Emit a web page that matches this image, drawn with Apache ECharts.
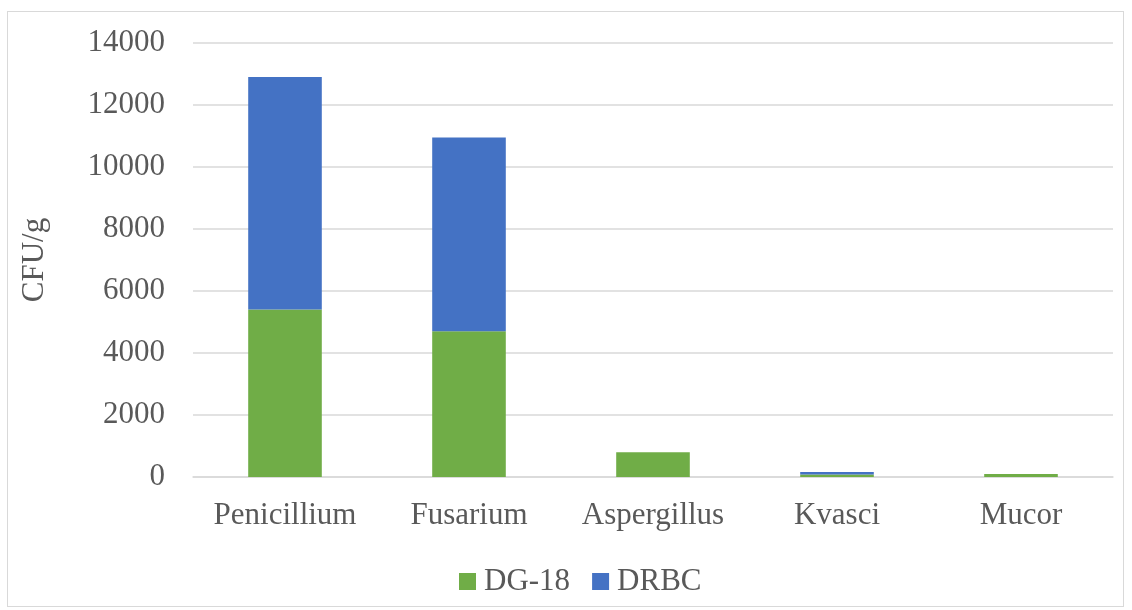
<!DOCTYPE html>
<html>
<head>
<meta charset="utf-8">
<script src="https://cdn.jsdelivr.net/npm/echarts@6/dist/echarts.min.js"></script>
<style>
  html, body { margin: 0; padding: 0; background: #fff; }
  #frame {
    position: absolute; left: 7px; top: 11px; width: 1117px; height: 596px;
    border: 1px solid #d9d9d9; box-sizing: border-box;
  }
  #chart { position: absolute; left: 0; top: 0; width: 1132px; height: 610px; }
</style>
</head>
<body>
<div id="frame"></div>
<div id="chart"></div>
<script>
const categories = ["Penicillium", "Fusarium", "Aspergillus", "Kvasci", "Mucor"];
const dg18 = [5400, 4700, 800, 80, 100];
const drbc = [7500, 6250, 0, 80, 0];
const seriesNames = ["DG-18", "DRBC"];

const textColor = "#595959";
const font = "Liberation Serif";

var myChart = echarts.init(document.getElementById("chart"));

var option = {
  animation: false,
  textStyle: { fontFamily: font },
  legend: {
    data: seriesNames,
    left: 454,
    top: 561,
    itemWidth: 17,
    itemHeight: 17,
    itemGap: 22,
    icon: "rect",
    textStyle: { color: textColor, fontSize: 31, fontFamily: font, padding: [0, 0, 0, 3] },
  },
  grid: { left: 193, right: 19, top: 43, bottom: 133 },
  xAxis: {
    type: "category",
    data: categories,
    axisLine: { lineStyle: { color: "#d9d9d9", width: 1.5 } },
    axisTick: { show: false },
    axisLabel: { color: textColor, fontSize: 31, fontFamily: font, margin: 23, interval: 0 },
  },
  yAxis: {
    type: "value",
    min: 0,
    max: 14000,
    interval: 2000,
    name: "CFU/g",
    nameLocation: "middle",
    nameGap: 143,
    nameRotate: 90,
    nameTextStyle: { color: textColor, fontSize: 31, fontFamily: font },
    axisLine: { show: false },
    axisTick: { show: false },
    axisLabel: {
      color: textColor, fontSize: 31, fontFamily: font, margin: 28,
      formatter: function (v) { return String(v); },
    },
    splitLine: { lineStyle: { color: "#d9d9d9", width: 1.5 } },
  },
  series: [
    {
      name: seriesNames[0],
      type: "bar",
      stack: "total",
      data: dg18,
      barWidth: "40%",
      itemStyle: { color: "#70ad47" },
    },
    {
      name: seriesNames[1],
      type: "bar",
      stack: "total",
      data: drbc,
      barWidth: "40%",
      itemStyle: { color: "#4472c4" },
    },
  ],
};

myChart.setOption(option);
</script>
</body>
</html>
